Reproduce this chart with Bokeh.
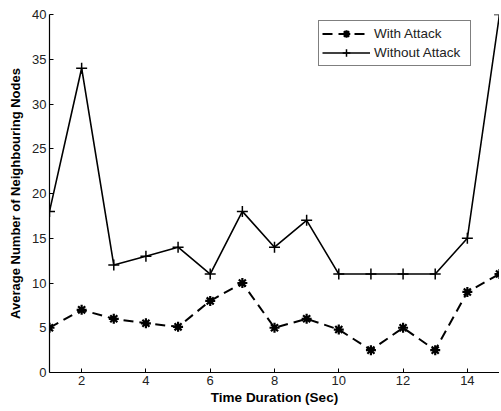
from bokeh.plotting import figure
from bokeh.models import Range1d, FixedTicker, Legend, LegendItem
from bokeh.embed import file_html
from bokeh.resources import INLINE

time_sec = [1, 2, 3, 4, 5, 6, 7, 8, 9, 10, 11, 12, 13, 14, 15]
with_attack = [5, 7, 6, 5.5, 5.1, 8, 10, 5, 6, 4.8, 2.5, 5, 2.5, 9, 11]
without_attack = [18, 34, 12, 13, 14, 11, 18, 14, 17, 11, 11, 11, 11, 15, 40]
x_ticks = [2, 4, 6, 8, 10, 12, 14]
y_ticks = [0, 5, 10, 15, 20, 25, 30, 35, 40]

FONT = "Liberation Sans"

p = figure(frame_width=450, frame_height=358, output_backend="svg", toolbar_location=None,
           x_range=Range1d(1, 15), y_range=Range1d(0, 40),
           min_border_left=49, min_border_right=0, min_border_top=14, min_border_bottom=30)
p.outline_line_color = None
p.grid.visible = False
p.background_fill_color = "white"

l1 = p.line(time_sec, with_attack, line_color="black", line_width=2, line_dash="10 6")
m1 = p.scatter(time_sec, with_attack, marker="asterisk", size=10, line_color="black", line_width=2.2)
l2 = p.line(time_sec, without_attack, line_color="black", line_width=1.6)
m2 = p.scatter(time_sec, without_attack, marker="cross", size=11, line_color="black", line_width=1.5)

for ax in (p.xaxis[0], p.yaxis[0]):
    ax.major_tick_in = 4
    ax.major_tick_out = 0
    ax.minor_tick_in = 0
    ax.minor_tick_out = 0
    ax.axis_line_color = "black"
    ax.axis_line_width = 1.2
    ax.major_tick_line_color = "black"
    ax.major_label_text_font = FONT
    ax.major_label_text_font_size = "13px"
    ax.major_label_text_color = "#222222"
    ax.major_label_standoff = 3
    ax.axis_label_text_font = FONT
    ax.axis_label_text_font_style = "bold"
    ax.axis_label_text_color = "black"

p.xaxis.ticker = FixedTicker(ticks=x_ticks)
p.yaxis.ticker = FixedTicker(ticks=y_ticks)
p.xaxis.axis_label = "Time Duration (Sec)"
p.yaxis.axis_label = "Average Number of Neighbouring Nodes"
p.xaxis.axis_label_text_font_size = "13.5px"
p.yaxis.axis_label_text_font_size = "13px"
p.xaxis.axis_label_standoff = 2
p.yaxis.axis_label_standoff = 6

legend = Legend(items=[LegendItem(label="With Attack", renderers=[l1, m1]),
                       LegendItem(label="Without Attack", renderers=[l2, m2])],
                location=(269, 306))
legend.border_line_color = "black"
legend.border_line_width = 1
legend.background_fill_color = "white"
legend.background_fill_alpha = 1
legend.label_text_font = FONT
legend.label_text_font_size = "13.5px"
legend.label_text_color = "#222222"
legend.glyph_width = 48
legend.glyph_height = 19
legend.label_height = 19
legend.label_width = 93
legend.label_standoff = 4
legend.spacing = 0
legend.padding = 3
legend.margin = 0
p.add_layout(legend, "center")

open("out.html", "w").write(file_html(p, INLINE))
